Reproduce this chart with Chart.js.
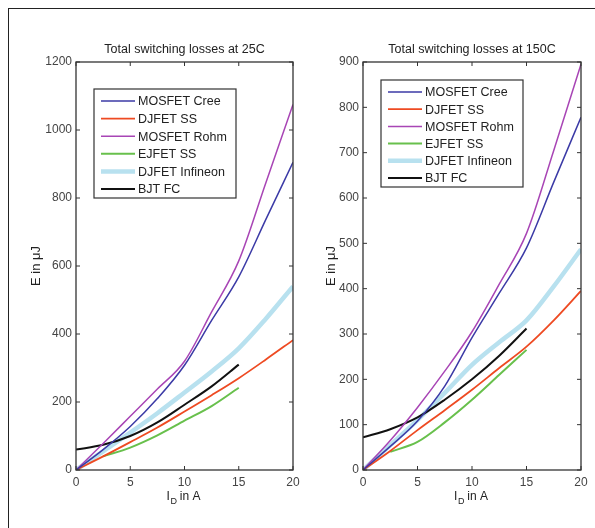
<!DOCTYPE html>
<html>
<head>
<meta charset="utf-8">
<script src="https://cdn.jsdelivr.net/npm/chart.js@4.4.1/dist/chart.umd.min.js"></script>
<style>
  html, body { margin: 0; padding: 0; background: #fff; }
  body { width: 595px; height: 528px; position: relative; overflow: hidden; }
  #frame { position: absolute; left: 8px; top: 8px; width: 700px; height: 700px;
           border-left: 1.5px solid #222; border-top: 1.5px solid #222; }
  canvas { position: absolute; top: 0; }
  #c25 { left: 0; }
  #c150 { left: 298px; }
</style>
</head>
<body>
<div id="frame"></div>
<canvas id="c25" width="315" height="528"></canvas>
<canvas id="c150" width="297" height="528"></canvas>
<script>
// currents in A, shared by all curves
const currents = [0, 2.5, 5, 7.5, 10, 12.5, 15, 17.5, 20];
const seriesNames = ["MOSFET Cree", "DJFET SS", "MOSFET Rohm", "EJFET SS", "DJFET Infineon", "BJT FC"];
const xTicks = [0, 5, 10, 15, 20];
const yTicks25 = [0, 200, 400, 600, 800, 1000, 1200];
const yTicks150 = [0, 100, 200, 300, 400, 500, 600, 700, 800, 900];

// 25C, energy in uJ
const cree25     = [0, 60, 128, 210, 308, 440, 568, 737, 905];
const djfetSS25  = [0, 40, 82, 125, 172, 220, 270, 325, 382];
const rohm25     = [0, 78, 158, 238, 320, 465, 615, 845, 1075];
const ejfet25    = [null, 40, 66, 102, 145, 188, 242, null, null];
const infineon25 = [0, 55, 110, 167, 228, 290, 358, 445, 540];
const bjt25      = [60, 74, 100, 140, 192, 246, 310, null, null];

// 150C
const cree150     = [0, 52, 108, 185, 292, 390, 490, 635, 778];
const djfetSS150  = [0, 42, 88, 132, 177, 225, 272, 330, 395];
const rohm150     = [0, 65, 138, 218, 305, 410, 522, 705, 895];
const ejfet150    = [null, 40, 62, 105, 155, 210, 265, null, null];
const infineon150 = [0, 55, 110, 170, 232, 282, 330, 405, 487];
const bjt150      = [72, 90, 116, 155, 200, 252, 312, null, null];

const colors = ["#3b3aa6", "#ee4a22", "#a845b5", "#68c04c", "#b8e1ef", "#111111"];
const widths = [1.5, 1.8, 1.5, 2, 4.5, 2];
const FONT = '"Liberation Sans", Arial, sans-serif';

function buildSets(all) {
  return all.map((vals, i) => ({
    label: seriesNames[i],
    data: currents.map((x, k) => ({ x: x, y: vals[k] })).filter(p => p.y !== null),
    borderColor: colors[i],
    borderWidth: widths[i],
    pointRadius: 0,
    cubicInterpolationMode: 'monotone',
    order: i === 4 ? 10 : 0
  }));
}

function line(ctx, x0, y0, x1, y1) {
  ctx.beginPath(); ctx.moveTo(x0, y0); ctx.lineTo(x1, y1); ctx.stroke();
}

// matlab-ish box, inward ticks, legend and labels
const matlabFrame = {
  id: 'matlabFrame',
  afterDatasetsDraw(chart, args, o) {
    const ctx = chart.ctx, a = chart.chartArea;
    const x = chart.scales.x, y = chart.scales.y;
    ctx.save();
    ctx.strokeStyle = '#333';
    ctx.lineWidth = 1.3;
    ctx.strokeRect(a.left, a.top, a.right - a.left, a.bottom - a.top);
    ctx.lineWidth = 1;
    x.ticks.forEach(t => {
      const p = x.getPixelForValue(t.value);
      line(ctx, p, a.bottom, p, a.bottom - 4);
      line(ctx, p, a.top, p, a.top + 4);
    });
    y.ticks.forEach(t => {
      const p = y.getPixelForValue(t.value);
      line(ctx, a.left, p, a.left + 4, p);
      line(ctx, a.right, p, a.right - 4, p);
    });

    // legend box
    const L = o.legend;
    ctx.fillStyle = '#fff';
    ctx.fillRect(L.x, L.y, L.w, L.h);
    ctx.strokeStyle = '#333';
    ctx.lineWidth = 1.2;
    ctx.strokeRect(L.x, L.y, L.w, L.h);
    ctx.font = '12.5px ' + FONT;
    ctx.textBaseline = 'middle';
    ctx.textAlign = 'left';
    chart.data.datasets.forEach((ds, i) => {
      const yy = L.row0 + i * L.gap;
      ctx.strokeStyle = ds.borderColor;
      ctx.lineWidth = ds.borderWidth;
      line(ctx, L.lx0, yy, L.lx1, yy);
      ctx.fillStyle = '#222';
      ctx.fillText(ds.label, L.tx, yy + 1);
    });

    // title
    ctx.fillStyle = '#222';
    ctx.font = '12.5px ' + FONT;
    ctx.textAlign = 'center';
    ctx.fillText(o.title, (a.left + a.right) / 2, 50);

    // y label
    ctx.save();
    ctx.translate(o.ylabelX, (a.top + a.bottom) / 2);
    ctx.rotate(-Math.PI / 2);
    ctx.font = '13px ' + FONT;
    ctx.fillText('E in \u03bcJ', 0, 0);
    ctx.restore();

    // x label: I_D in A
    const cx = (a.left + a.right) / 2 - 1, by = 500;
    ctx.textAlign = 'left';
    ctx.textBaseline = 'alphabetic';
    ctx.font = '12px ' + FONT;
    const w1 = ctx.measureText('I').width;
    ctx.font = '9px ' + FONT;
    const w2 = ctx.measureText('D').width;
    ctx.font = '12px ' + FONT;
    const w3 = ctx.measureText(' in A').width;
    let sx = cx - (w1 + w2 + w3) / 2;
    ctx.fillText('I', sx, by);
    ctx.font = '9px ' + FONT;
    ctx.fillText('D', sx + w1 + 0.5, by + 3.5);
    ctx.font = '12px ' + FONT;
    ctx.fillText(' in A', sx + w1 + w2, by);
    ctx.restore();
  }
};

function makeChart(id, sets, yTicks, yMax, cfg) {
  new Chart(document.getElementById(id), {
    type: 'line',
    data: { datasets: buildSets(sets) },
    options: {
      responsive: false,
      animation: false,
      layout: { padding: { top: 62, right: cfg.padRight, left: 0, bottom: 0 } },
      plugins: {
        legend: { display: false },
        tooltip: { enabled: false },
        matlabFrame: cfg
      },
      scales: {
        x: {
          type: 'linear', min: 0, max: 20,
          afterBuildTicks: s => { s.ticks = xTicks.map(v => ({ value: v })); },
          afterFit: s => { s.height = 58; },
          grid: { display: false, drawTicks: false },
          border: { display: false },
          ticks: { padding: 5, color: '#444', font: { family: FONT, size: 12 }, maxRotation: 0,
                   callback: v => String(v) }
        },
        y: {
          type: 'linear', min: 0, max: yMax,
          afterBuildTicks: s => { s.ticks = yTicks.map(v => ({ value: v })); },
          afterFit: s => { s.width = cfg.axisLeft; },
          grid: { display: false, drawTicks: false },
          border: { display: false },
          ticks: { padding: 4, color: '#444', font: { family: FONT, size: 12 },
                   callback: v => String(v) }
        }
      }
    },
    plugins: [matlabFrame]
  });
}

makeChart('c25', [cree25, djfetSS25, rohm25, ejfet25, infineon25, bjt25], yTicks25, 1200, {
  title: 'Total switching losses at 25C',
  axisLeft: 76, padRight: 22, ylabelX: 36,
  legend: { x: 94, y: 89, w: 142, h: 109, row0: 101, gap: 17.6, lx0: 101, lx1: 135, tx: 138 }
});

makeChart('c150', [cree150, djfetSS150, rohm150, ejfet150, infineon150, bjt150], yTicks150, 900, {
  title: 'Total switching losses at 150C',
  axisLeft: 65, padRight: 14, ylabelX: 33,
  legend: { x: 83, y: 80, w: 142, h: 107, row0: 92, gap: 17.2, lx0: 90, lx1: 124, tx: 127 }
});
</script>
</body>
</html>
